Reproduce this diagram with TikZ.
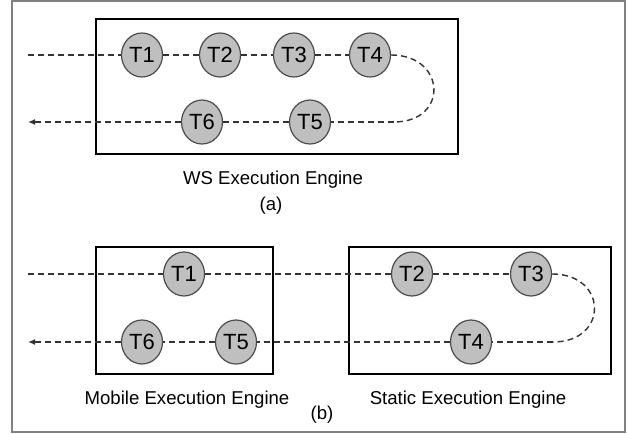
\documentclass[tikz,border=0pt]{standalone}
\usepackage{fontspec}
\setmainfont{Liberation Sans}
\usetikzlibrary{arrows.meta,shapes.geometric}

\begin{document}
\begin{tikzpicture}[x=1pt, y=-1pt, font=\fontsize{18.6}{20}\selectfont]
  \useasboundingbox (0, 0) rectangle (628, 433);

  % Rahmen.
  \draw[gray, line width=1.5pt] (12, 1) rectangle (625, 432);

  % Stile.
  \tikzstyle{task}=[ellipse, draw=black!70, line width=1.2pt, fill=black!25, minimum width=41pt, minimum height=44pt, inner sep=0pt, font=\fontsize{22}{24}\selectfont]
  \tikzstyle{engine}=[draw, line width=1.8pt]
  \tikzstyle{flow}=[dashed, dash pattern=on 6pt off 4pt, line width=1.4pt, black!80]

  % (a) Engines.
  \draw[engine] (96, 19) rectangle (458, 154);

  \coordinate (ain) at (28, 55);
  \coordinate (aout) at (28, 122);
  \coordinate (aturn) at (394, 122);

  \node[task] (a1) at (142, 55) {T1};
  \node[task] (a2) at (220, 55) {T2};
  \node[task] (a3) at (294, 55) {T3};
  \node[task] (a4) at (370, 55) {T4};
  \node[task] (a5) at (310, 122) {T5};
  \node[task] (a6) at (202, 122) {T6};

  \draw[flow] (ain) -- (a1);
  \draw[flow] (a1) -- (a2);
  \draw[flow] (a2) -- (a3);
  \draw[flow] (a3) -- (a4);
  \draw[flow] (a4.east) to[out=0, in=0, looseness=2.1] (aturn);
  \draw[flow] (aturn) -- (a5);
  \draw[flow] (a5) -- (a6);
  \draw[flow, -{Latex[length=7pt, width=6pt]}] (a6) -- (aout);

  \node (wslabel) at (273, 180) {WS Execution Engine};
  \node (alabel) at (271, 206) {(a)};

  % (b) Engines.
  \draw[engine] (96, 247) rectangle (273, 374);
  \draw[engine] (349, 247) rectangle (611, 374);

  \coordinate (bin) at (28, 274);
  \coordinate (bout) at (28, 342);
  \coordinate (bturn) at (553, 342);

  \node[task] (b1) at (184, 274) {T1};
  \node[task] (b2) at (412, 274) {T2};
  \node[task] (b3) at (531, 274) {T3};
  \node[task] (b4) at (471, 342) {T4};
  \node[task] (b5) at (236, 342) {T5};
  \node[task] (b6) at (142, 342) {T6};

  \draw[flow] (bin) -- (b1);
  \draw[flow] (b1) -- (b2);
  \draw[flow] (b2) -- (b3);
  \draw[flow] (b3.east) to[out=0, in=0, looseness=2.1] (bturn);
  \draw[flow] (bturn) -- (b4);
  \draw[flow] (b4) -- (b5);
  \draw[flow] (b5) -- (b6);
  \draw[flow, -{Latex[length=7pt, width=6pt]}] (b6) -- (bout);

  \node (mlabel) at (187, 400) {Mobile Execution Engine};
  \node (slabel) at (468, 400) {Static Execution Engine};
  \node (blabel) at (322, 415) {(b)};
\end{tikzpicture}
\end{document}
